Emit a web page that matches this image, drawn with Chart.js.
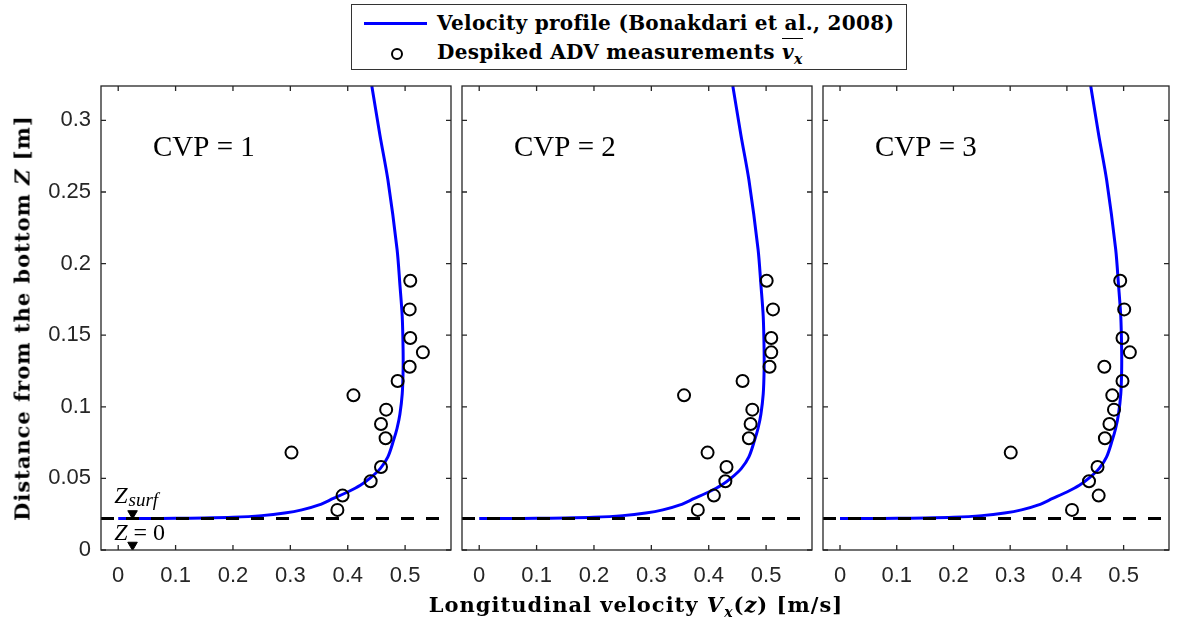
<!DOCTYPE html>
<html>
<head>
<meta charset="utf-8">
<script src="https://cdn.jsdelivr.net/npm/chart.js@4.4.1/dist/chart.umd.min.js"></script>
<style>
  body { margin: 0; width: 1177px; height: 624px; background: #fff; position: relative; overflow: hidden; font-family: "DejaVu Serif", serif; color: #000; }
  .panel { position: absolute; top: 70px; height: 530px; }
  #legend { position: absolute; left: 351px; top: 4px; width: 554px; height: 64px; border: 1.5px solid #333; background: #fff; }
  #legend .row { position: absolute; left: 85px; font-weight: bold; font-size: 20px; letter-spacing: 0.3px; white-space: nowrap; line-height: 21px; }
  #legend .line { position: absolute; left: 12px; top: 17px; width: 63px; height: 3px; background: #0000ff; }
  #legend .mark { position: absolute; left: 39px; top: 43px; width: 8px; height: 8px; border: 2px solid #000; border-radius: 50%; }
  .title { position: absolute; font-weight: bold; font-size: 21px; letter-spacing: 1px; white-space: nowrap; transform: translate(-50%, -50%); }
  #ytitle { left: 22px; top: 318px; transform: translate(-50%, -50%) rotate(-90deg); }
  #xtitle { left: 636px; top: 606px; }
  .ov { border-top: 1.5px solid #000; padding-top: 1px; }
  sub { font-size: 14px; }
</style>
</head>
<body>
<div id="legend">
  <div class="line"></div>
  <div class="row" style="top:8px">Velocity profile (Bonakdari et al., 2008)</div>
  <div class="mark"></div>
  <div class="row" style="top:37px">Despiked ADV measurements <span class="ov"><i>v<sub>x</sub></i></span></div>
</div>
<div class="panel" style="left:0;width:460px"><canvas id="cvp1"></canvas></div>
<div class="panel" style="left:452px;width:369px"><canvas id="cvp2"></canvas></div>
<div class="panel" style="left:813px;width:364px"><canvas id="cvp3"></canvas></div>
<div class="title" id="ytitle">Distance from the bottom <i>Z</i> [m]</div>
<div class="title" id="xtitle">Longitudinal velocity <i>V<sub>x</sub></i>(<i>z</i>) [m/s]</div>
<script>
// axis ticks
const xTicks = [0, 0.1, 0.2, 0.3, 0.4, 0.5];
const yTicks = [0, 0.05, 0.1, 0.15, 0.2, 0.25, 0.3];

// measurement heights (m) and mean velocities (m/s) for each vertical
const zMeasured = [0.028, 0.038, 0.048, 0.058, 0.068, 0.078, 0.088, 0.098, 0.108, 0.118, 0.128, 0.138, 0.148, 0.168, 0.188];
const vCvp1 = [0.382, 0.391, 0.440, 0.458, 0.302, 0.466, 0.458, 0.467, 0.410, 0.487, 0.508, 0.531, 0.509, 0.508, 0.509];
const vCvp2 = [0.381, 0.409, 0.429, 0.431, 0.398, 0.470, 0.473, 0.476, 0.357, 0.459, 0.506, 0.509, 0.509, 0.512, 0.501];
const vCvp3 = [0.409, 0.456, 0.439, 0.454, 0.301, 0.467, 0.475, 0.483, 0.480, 0.498, 0.466, 0.511, 0.498, 0.501, 0.494];

// fitted velocity profile
const profileV = [0, 0.05, 0.10, 0.15, 0.20, 0.25, 0.29, 0.32, 0.35, 0.375, 0.40, 0.422, 0.440, 0.457, 0.470, 0.480, 0.486, 0.491, 0.495, 0.4965, 0.4965, 0.495, 0.491, 0.486, 0.470, 0.456, 0.442];
const profileZ = [0.022, 0.02203, 0.0221, 0.0223, 0.0228, 0.0240, 0.0258, 0.0280, 0.0315, 0.036, 0.0405, 0.0452, 0.0505, 0.057, 0.065, 0.0767, 0.085, 0.095, 0.109, 0.125, 0.14, 0.163, 0.185, 0.21, 0.2585, 0.29, 0.324];

const zSurf = 0.022;
const panelLabels = ["CVP = 1", "CVP = 2", "CVP = 3"];

const axisColor = "#262626";

// box, inward ticks and in-plot labels
const framePlugin = {
  id: "frame",
  afterDatasetsDraw(chart, args, opts) {
    const { ctx, chartArea: a, scales: { x, y } } = chart;
    ctx.save();
    ctx.strokeStyle = axisColor;
    ctx.lineWidth = 1.3;
    ctx.strokeRect(a.left, a.top, a.width, a.height);
    ctx.beginPath();
    xTicks.forEach(v => {
      const px = x.getPixelForValue(v);
      ctx.moveTo(px, a.bottom); ctx.lineTo(px, a.bottom - 5);
      ctx.moveTo(px, a.top); ctx.lineTo(px, a.top + 5);
    });
    yTicks.forEach(v => {
      const py = y.getPixelForValue(v);
      ctx.moveTo(a.left, py); ctx.lineTo(a.left + 5, py);
      ctx.moveTo(a.right, py); ctx.lineTo(a.right - 5, py);
    });
    ctx.stroke();

    ctx.fillStyle = "#000";
    ctx.textBaseline = "alphabetic";
    ctx.font = '29px "Liberation Serif"';
    ctx.fillText(opts.label, a.left + 52, a.top + 70);

    if (opts.showZ) {
      const x0 = x.getPixelForValue(0) - 4;
      let yb = y.getPixelForValue(zSurf) - 15;
      ctx.font = 'italic 24px "Liberation Serif"';
      ctx.fillText("Z", x0, yb);
      let w = ctx.measureText("Z").width;
      ctx.font = 'italic 19px "Liberation Serif"';
      ctx.fillText("surf", x0 + w + 1, yb + 3);

      yb = y.getPixelForValue(0) - 10;
      ctx.font = 'italic 24px "Liberation Serif"';
      ctx.fillText("Z", x0, yb);
      w = ctx.measureText("Z").width;
      ctx.font = '24px "Liberation Serif"';
      ctx.fillText(" = 0", x0 + w, yb);
    }
    ctx.restore();
  }
};

function makePanel(id, label, vMeasured, yWidth, padRight, showZ) {
  const datasets = [
    {
      data: vMeasured.map((v, i) => ({ x: v, y: zMeasured[i] })),
      pointStyle: "circle",
      pointRadius: 6,
      borderWidth: 2,
      borderColor: "#000",
      backgroundColor: "rgba(0,0,0,0)"
    }
  ];
  if (showZ) {
    datasets.push({
      data: [{ x: 0.025, y: zSurf + 0.0035 }, { x: 0.025, y: 0.0035 }],
      pointStyle: "triangle",
      rotation: 180,
      pointRadius: 5.5,
      borderWidth: 1,
      borderColor: "#000",
      backgroundColor: "#000"
    });
  }
  datasets.push(
    {
      data: [{ x: -0.03, y: zSurf }, { x: 0.58, y: zSurf }],
      showLine: true,
      pointRadius: 0,
      borderColor: "#000",
      borderWidth: 3,
      borderDash: [13, 12]
    },
    {
      data: profileV.map((v, i) => ({ x: v, y: profileZ[i] })),
      showLine: true,
      pointRadius: 0,
      borderColor: "#0000ff",
      borderWidth: 3,
      tension: 0.3
    }
  );

  return new Chart(document.getElementById(id), {
    type: "scatter",
    data: { datasets: datasets },
    plugins: [framePlugin],
    options: {
      responsive: true,
      maintainAspectRatio: false,
      animation: false,
      layout: { padding: { left: 0, right: padRight, top: 16, bottom: 0 } },
      plugins: {
        legend: { display: false },
        tooltip: { enabled: false },
        frame: { label: label, showZ: showZ }
      },
      scales: {
        x: {
          type: "linear",
          min: -0.03,
          max: 0.58,
          grid: { display: false, drawTicks: false },
          border: { display: false },
          afterBuildTicks: s => { s.ticks = xTicks.map(v => ({ value: v })); },
          afterFit: s => { s.height = 50; s.paddingLeft = 0; s.paddingRight = 0; },
          ticks: {
            padding: 13,
            color: axisColor,
            font: { family: "Liberation Sans", size: 22 },
            callback: v => String(+v.toFixed(2))
          }
        },
        y: {
          type: "linear",
          min: 0,
          max: 0.324,
          grid: { display: false, drawTicks: false },
          border: { display: false },
          afterBuildTicks: s => { s.ticks = yTicks.map(v => ({ value: v })); },
          afterFit: s => { s.width = yWidth; s.paddingTop = 0; s.paddingBottom = 0; },
          ticks: {
            display: yWidth > 50,
            padding: 10,
            color: axisColor,
            font: { family: "Liberation Sans", size: 22 },
            callback: v => String(+v.toFixed(2))
          }
        }
      }
    }
  });
}

makePanel("cvp1", panelLabels[0], vCvp1, 101, 9, true);
makePanel("cvp2", panelLabels[1], vCvp2, 10, 9, false);
makePanel("cvp3", panelLabels[2], vCvp3, 10, 4, false);
</script>
</body>
</html>
